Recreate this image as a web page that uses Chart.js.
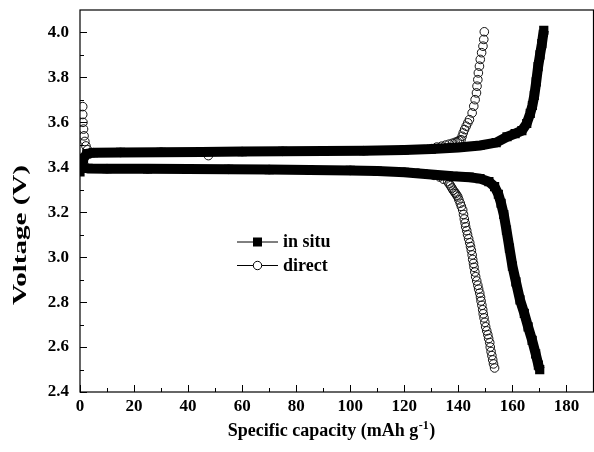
<!DOCTYPE html>
<html>
<head>
<meta charset="utf-8">
<title>Charge / discharge profiles</title>
<script src="https://cdn.jsdelivr.net/npm/chart.js@4.4.0/dist/chart.umd.min.js"></script>
<style>
  html, body { margin: 0; padding: 0; background: #fff; overflow: hidden; }
  canvas { display: block; background: #fff; }
</style>
</head>
<body>
<canvas id="voltageChart" width="600" height="452"></canvas>
<script>
// Series names used in the legend
const seriesNames = ['in situ', 'direct'];

// Axis ticks
const capacityTicks = [0, 20, 40, 60, 80, 100, 120, 140, 160, 180];
const voltageTicks = [2.4, 2.6, 2.8, 3.0, 3.2, 3.4, 3.6, 3.8, 4.0];

// in situ sample: charge branch (mAh/g, V)
const insituChargeCap = [0, 0.6, 1.3, 2.5, 5, 15, 30, 45, 60, 75, 90, 105, 120, 130, 140, 148, 154, 158, 161, 163.5, 165.3, 166.6, 167.4, 168.1, 168.8, 169.5, 170.2, 170.9, 171.6];
const insituChargeV = [3.38, 3.41, 3.44, 3.46, 3.465, 3.466, 3.467, 3.468, 3.47, 3.471, 3.472, 3.474, 3.477, 3.481, 3.488, 3.497, 3.51, 3.536, 3.55, 3.563, 3.595, 3.64, 3.675, 3.72, 3.78, 3.848, 3.90, 3.95, 4.01];

// in situ sample: discharge branch
const insituDischargeCap = [0, 1, 3, 10, 25, 40, 55, 70, 85, 100, 110, 120, 130, 138, 144, 148, 151.3, 153.4, 154.8, 155.8, 156.8, 157.8, 158.9, 160, 161.3, 162.8, 164.4, 165.8, 167.3, 168.6, 169.6, 170.1];
const insituDischargeV = [3.42, 3.40, 3.395, 3.394, 3.393, 3.392, 3.391, 3.39, 3.388, 3.386, 3.383, 3.378, 3.368, 3.36, 3.356, 3.35, 3.336, 3.314, 3.28, 3.24, 3.19, 3.12, 3.04, 2.96, 2.89, 2.81, 2.75, 2.69, 2.63, 2.57, 2.52, 2.50];

// direct sample: charge branch
const directChargeCap = [1.0, 1.0, 1.1, 1.3, 1.5, 1.8, 2.2, 2.8, 5, 15, 30, 47.5, 60, 75, 90, 105, 120, 130, 132, 133.8, 135.3, 136.6, 137.8, 138.8, 139.6, 140.3, 141, 141.4, 141.8, 142.3, 142.9, 143.5, 144.1, 145.1, 145.7, 146.2, 146.7, 146.9, 147.2, 147.4, 147.8, 148.1, 148.6, 149.1, 149.4, 149.6];
const directChargeV = [3.67, 3.635, 3.60, 3.57, 3.54, 3.515, 3.495, 3.478, 3.465, 3.466, 3.467, 3.452, 3.47, 3.471, 3.472, 3.474, 3.477, 3.483, 3.49, 3.494, 3.499, 3.503, 3.507, 3.511, 3.515, 3.519, 3.523, 3.538, 3.553, 3.568, 3.583, 3.598, 3.612, 3.642, 3.672, 3.701, 3.731, 3.761, 3.79, 3.82, 3.85, 3.88, 3.91, 3.939, 3.969, 4.003];

// direct sample: discharge branch
const directDischargeCap = [0, 1, 10, 25, 40, 55, 70, 85, 100, 110, 120, 125, 128, 131, 133, 134.5,
  136.1, 136.6, 137.1, 137.6, 138.1, 138.6, 139.0, 139.4, 139.8, 140.2, 140.7, 141.1, 141.6, 141.9, 142.2, 142.5, 142.7,
  143.1, 143.4, 143.8, 144.2, 144.5, 144.8, 145.1, 145.3, 145.6, 145.8, 146.1, 146.4, 146.8, 147.2, 147.5, 147.9,
  148.2, 148.4, 148.7, 149.0, 149.2, 149.5, 149.8, 150.1, 150.5, 150.9, 151.2, 151.6, 151.8, 152.1, 152.4, 152.7, 153.0, 153.4];
const directDischargeV = [3.41, 3.398, 3.394, 3.393, 3.392, 3.391, 3.39, 3.388, 3.386, 3.383, 3.378, 3.374, 3.37, 3.364, 3.357, 3.347,
  3.336, 3.327, 3.318, 3.308, 3.298, 3.29, 3.283, 3.276, 3.268, 3.255, 3.24, 3.226, 3.21, 3.19, 3.17, 3.152, 3.135,
  3.118, 3.10, 3.082, 3.064, 3.047, 3.03, 3.01, 2.99, 2.972, 2.955, 2.934, 2.913, 2.894, 2.875, 2.858, 2.84,
  2.822, 2.805, 2.786, 2.766, 2.748, 2.73, 2.71, 2.69, 2.672, 2.655, 2.638, 2.62, 2.60, 2.58, 2.562, 2.543, 2.525, 2.507];

const pairs = (xs, ys) => xs.map((x, i) => ({ x: x, y: ys[i] }));

const serif = '"Liberation Serif", "Times New Roman", serif';

// Styles for the two materials
const insituStyle = {
    showLine: true,
    borderColor: '#000',
    borderWidth: 10,
    tension: 0,
    pointStyle: 'rect',
    pointRadius: 6.5,
    pointBackgroundColor: '#000',
    pointBorderWidth: 0,
    order: 1
};
const directStyle = {
    showLine: false,
    pointStyle: 'circle',
    pointRadius: 4.3,
    pointBackgroundColor: 'rgba(0,0,0,0)',
    pointBorderColor: '#111',
    pointBorderWidth: 1,
    order: 2
};

// Frame, inward tick marks, axis titles and legend
const plotDecor = {
    id: 'plotDecor',
    afterDraw(chart) {
        const { ctx, chartArea: area, scales } = chart;
        const xs = scales.x, ys = scales.y;
        ctx.save();

        ctx.strokeStyle = '#000';
        ctx.lineWidth = 1.2;
        ctx.strokeRect(area.left, area.top, area.right - area.left, area.bottom - area.top);

        // major + minor ticks pointing into the plot
        ctx.lineWidth = 1;
        ctx.beginPath();
        capacityTicks.forEach((v, i) => {
            const px = Math.round(xs.getPixelForValue(v)) + 0.5;
            ctx.moveTo(px, area.bottom);
            ctx.lineTo(px, area.bottom - 7);
            if (i < capacityTicks.length - 1) {
                const mx = Math.round(xs.getPixelForValue((v + capacityTicks[i + 1]) / 2)) + 0.5;
                ctx.moveTo(mx, area.bottom);
                ctx.lineTo(mx, area.bottom - 4);
            }
        });
        voltageTicks.forEach((v, i) => {
            const py = Math.round(ys.getPixelForValue(v)) + 0.5;
            ctx.moveTo(area.left, py);
            ctx.lineTo(area.left + 7, py);
            if (i < voltageTicks.length - 1) {
                const my = Math.round(ys.getPixelForValue((v + voltageTicks[i + 1]) / 2)) + 0.5;
                ctx.moveTo(area.left, my);
                ctx.lineTo(area.left + 4, my);
            }
        });
        ctx.stroke();

        ctx.fillStyle = '#000';

        // x axis title with superscript unit
        const main = 'Specific capacity (mAh g';
        const sup = '-1';
        const tail = ')';
        ctx.font = 'bold 18px ' + serif;
        const wMain = ctx.measureText(main).width;
        const wTail = ctx.measureText(tail).width;
        ctx.font = 'bold 12px ' + serif;
        const wSup = ctx.measureText(sup).width;
        let tx = 331 - (wMain + wSup + wTail) / 2;
        const baseY = 436;
        ctx.textAlign = 'left';
        ctx.textBaseline = 'alphabetic';
        ctx.font = 'bold 18px ' + serif;
        ctx.fillText(main, tx, baseY);
        tx += wMain;
        ctx.font = 'bold 12px ' + serif;
        ctx.fillText(sup, tx + 0.5, baseY - 7);
        tx += wSup + 1;
        ctx.font = 'bold 18px ' + serif;
        ctx.fillText(tail, tx, baseY);

        // y axis title, stretched along its length
        const yTitle = 'Voltage (V)';
        ctx.save();
        ctx.font = 'bold 18px ' + serif;
        const wy = ctx.measureText(yTitle).width;
        ctx.translate(21, 235);
        ctx.rotate(-Math.PI / 2);
        ctx.scale(140 / wy, 1);
        ctx.textAlign = 'center';
        ctx.textBaseline = 'middle';
        ctx.fillText(yTitle, 0, 0);
        ctx.restore();

        // legend
        const rows = [241.5, 265];
        const lx0 = 237, lx1 = 278, mx = 257.5;
        rows.forEach((ry, i) => {
            ctx.strokeStyle = '#000';
            ctx.lineWidth = 1;
            ctx.beginPath();
            ctx.moveTo(lx0, ry + 0.5);
            ctx.lineTo(lx1, ry + 0.5);
            ctx.stroke();
            if (i === 0) {
                ctx.fillStyle = '#000';
                ctx.fillRect(mx - 4.5, ry - 4, 9, 9);
            } else {
                ctx.fillStyle = '#fff';
                ctx.beginPath();
                ctx.arc(mx, ry + 0.5, 4.2, 0, Math.PI * 2);
                ctx.fill();
                ctx.stroke();
            }
            ctx.fillStyle = '#000';
            ctx.font = 'bold 18px ' + serif;
            ctx.textAlign = 'left';
            ctx.textBaseline = 'middle';
            ctx.fillText(seriesNames[i], 283, ry + 1);
        });

        ctx.restore();
    }
};

const tickFont = { family: serif, size: 17, weight: 'bold' };

new Chart(document.getElementById('voltageChart').getContext('2d'), {
    type: 'scatter',
    data: {
        datasets: [
            Object.assign({ label: seriesNames[0] + ' charge', data: pairs(insituChargeCap, insituChargeV) }, insituStyle),
            Object.assign({ label: seriesNames[0] + ' discharge', data: pairs(insituDischargeCap, insituDischargeV) }, insituStyle),
            Object.assign({ label: seriesNames[1] + ' charge', data: pairs(directChargeCap, directChargeV) }, directStyle),
            Object.assign({ label: seriesNames[1] + ' discharge', data: pairs(directDischargeCap, directDischargeV) }, directStyle)
        ]
    },
    options: {
        responsive: false,
        devicePixelRatio: 1,
        animation: false,
        events: [],
        layout: { padding: { top: 10, right: 3, left: 0, bottom: 0 } },
        plugins: {
            legend: { display: false },
            tooltip: { enabled: false }
        },
        scales: {
            x: {
                type: 'linear',
                min: 0,
                max: 190,
                afterBuildTicks: s => { s.ticks = capacityTicks.map(v => ({ value: v })); },
                // fixed band under the plot, no extra side padding for labels
                afterFit: s => { s.height = 60; s.paddingLeft = 0; s.paddingRight = 0; },
                grid: { display: false, drawTicks: false },
                border: { display: false },
                ticks: { font: tickFont, color: '#000', padding: 4, maxRotation: 0, autoSkip: false,
                         callback: v => String(v) }
            },
            y: {
                type: 'linear',
                min: 2.4,
                max: 4.1,
                afterBuildTicks: s => { s.ticks = voltageTicks.map(v => ({ value: v })); },
                afterFit: s => { s.width = 80; s.paddingTop = 0; s.paddingBottom = 0; },
                grid: { display: false, drawTicks: false },
                border: { display: false },
                ticks: { font: tickFont, color: '#000', padding: 11, autoSkip: false,
                         callback: v => Number(v).toFixed(1) }
            }
        }
    },
    plugins: [plotDecor]
});
</script>
</body>
</html>
